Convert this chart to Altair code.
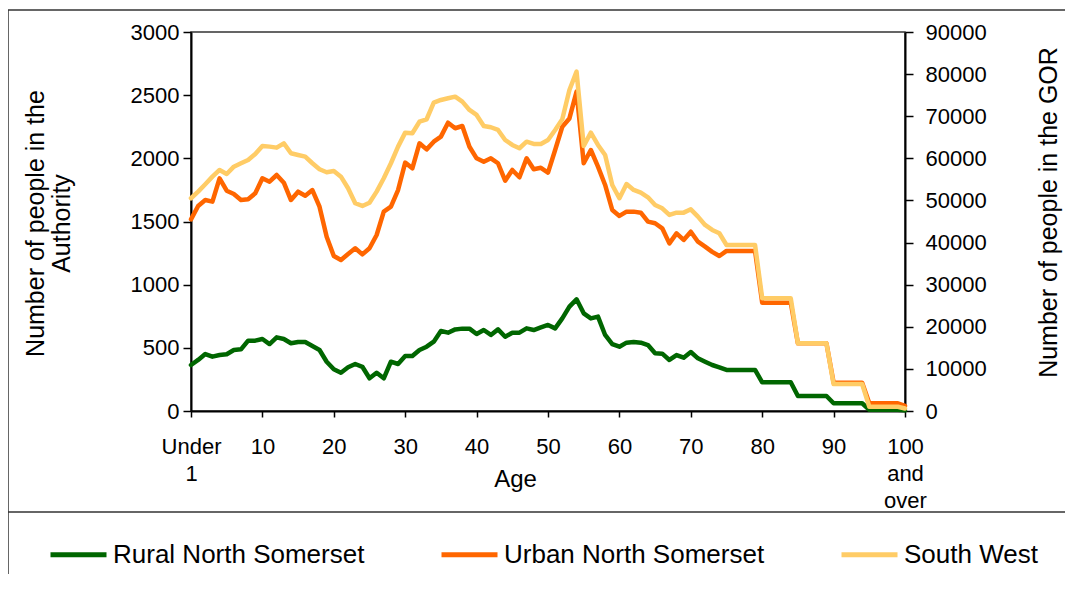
import altair as alt
import pandas as pd

ages = list(range(101))

rural = [364, 404, 451, 430, 443, 449, 483, 488, 557, 557,
         570, 530, 583, 570, 536, 546, 546, 515, 483, 390,
         330, 303, 346, 372, 350, 259, 303, 259, 390, 372,
         435, 435, 483, 509, 549, 633, 620, 646, 652, 652,
         609, 641, 602, 646, 588, 620, 620, 654, 641, 662,
         681, 654, 733, 826, 884, 773, 733, 747, 602, 530,
         509, 541, 546, 541, 522, 457, 454, 404, 443, 422,
         467, 417, 390, 364, 346, 325, 325, 325, 325, 325,
         227, 227, 227, 227, 227, 119, 119, 119, 119, 119,
         61, 61, 61, 61, 61, 10, 10, 10, 10, 10,
         5]

urban = [1517, 1623, 1670, 1657, 1842, 1744, 1718, 1670, 1676, 1723,
         1842, 1815, 1868, 1807, 1670, 1736, 1704, 1749, 1617, 1380,
         1227, 1195, 1243, 1288, 1240, 1288, 1393, 1578, 1617, 1749,
         1966, 1921, 2119, 2071, 2132, 2172, 2282, 2238, 2256, 2092,
         2000, 1973, 2000, 1961, 1823, 1908, 1850, 2000, 1913, 1925,
         1887, 2066, 2250, 2316, 2528, 1961, 2066, 1934, 1789, 1591,
         1544, 1578, 1578, 1570, 1499, 1486, 1446, 1327, 1406, 1354,
         1419, 1340, 1301, 1260, 1227, 1267, 1267, 1267, 1267, 1267,
         857, 857, 857, 857, 857, 536, 536, 536, 536, 536,
         224, 224, 224, 224, 224, 61, 61, 61, 61, 61,
         40]

south_west = [50520, 52090, 53840, 55650, 57240, 56290, 58020, 58830, 59610, 61040,
              62940, 62780, 62540, 63570, 61200, 60800, 60400, 58830, 57400, 56690,
              57000, 55650, 52890, 49330, 48690, 49470, 52090, 55260, 58830, 62780,
              66100, 65950, 68700, 69280, 73220, 73860, 74260, 74650, 73460, 71490,
              70300, 67690, 67380, 66740, 64360, 63180, 62390, 63960, 63410, 63410,
              64360, 66740, 69280, 76240, 80590, 62940, 66100, 63180, 60800, 53670,
              50520, 53910, 52490, 51850, 50750, 48930, 48140, 46550, 47100, 47100,
              47890, 46150, 44180, 43000, 42200, 39420, 39420, 39420, 39420, 39420,
              26770, 26770, 26770, 26770, 26770, 16080, 16080, 16080, 16080, 16080,
              6410, 6410, 6410, 6410, 6410, 1000, 1000, 1000, 1000, 1000,
              600]

series_names = ["Rural North Somerset", "Urban North Somerset", "South West"]
series_colors = ["#006600", "#FF6600", "#FFCC66"]
left_ticks = [0, 500, 1000, 1500, 2000, 2500, 3000]
right_ticks = [0, 10000, 20000, 30000, 40000, 50000, 60000, 70000, 80000, 90000]
age_ticks = [0, 10, 20, 30, 40, 50, 60, 70, 80, 90, 100]

FONT = "Liberation Sans"

df_left = pd.DataFrame({
    "age": ages + ages,
    "value": rural + urban,
    "series": [series_names[0]] * len(ages) + [series_names[1]] * len(ages),
})
df_right = pd.DataFrame({
    "age": ages,
    "value": south_west,
    "series": [series_names[2]] * len(ages),
})

color = alt.Color(
    "series:N",
    scale=alt.Scale(domain=series_names, range=series_colors),
    legend=alt.Legend(
        title=None, orient="none", direction="horizontal",
        legendX=-143, legendY=492,
        symbolType="stroke", symbolSize=3136, symbolStrokeWidth=5,
        labelFont=FONT, labelFontSize=26, labelColor="black", labelLimit=0,
        labelOffset=4, columnPadding=66, padding=0,
    ),
)

x_enc = alt.X(
    "age:Q",
    scale=alt.Scale(domain=[0, 100], nice=False),
    axis=alt.Axis(
        values=age_ticks,
        labelExpr="datum.value == 0 ? ['Under', '1'] : datum.value == 100 ? ['100', 'and', 'over'] : datum.label",
        labelFlush=False, labelOverlap=False, labelBound=False,
        labelLineHeight=27, labelPadding=19, tickSize=6,
        labelFontSize=22,
        title="Age", titleX=324, titleY=68, titleBaseline="middle",
        titleFontSize=24,
    ),
)

line_props = dict(strokeWidth=4.5, strokeJoin="round", strokeCap="round")

left = alt.Chart(df_left).mark_line(**line_props).encode(
    x=x_enc,
    y=alt.Y(
        "value:Q",
        scale=alt.Scale(domain=[0, 3000], nice=False),
        axis=alt.Axis(
            orient="left", values=left_ticks, format="d",
            tickSize=8, labelPadding=4, labelFontSize=22,
            title=["Number of people in the", "Authority"],
            titleX=-156, titleY=191, titleAngle=270,
            titleAlign="center", titleBaseline="middle",
            titleFontSize=25, titleLineHeight=26,
        ),
    ),
    color=color,
)

right = alt.Chart(df_right).mark_line(**line_props).encode(
    x=x_enc,
    y=alt.Y(
        "value:Q",
        scale=alt.Scale(domain=[0, 90000], nice=False),
        axis=alt.Axis(
            orient="right", values=right_ticks, format="d",
            tickSize=8, labelPadding=12, labelFontSize=22,
            title="Number of people in the GOR",
            titleX=143, titleY=180, titleAngle=270,
            titleAlign="center", titleBaseline="middle",
            titleFontSize=25,
        ),
    ),
    color=color,
)

frame_df = pd.DataFrame({"k": [0]})
frame_left = alt.Chart(frame_df).mark_rule(color="#333333", strokeWidth=1.5).encode(
    x=alt.value(-183), y=alt.value(-22), y2=alt.value(560)
)
frame_top = alt.Chart(frame_df).mark_rule(color="#333333", strokeWidth=1.5).encode(
    x=alt.value(-183), x2=alt.value(880), y=alt.value(-22)
)
frame_sep = alt.Chart(frame_df).mark_rule(color="#333333", strokeWidth=1.5).encode(
    x=alt.value(-183), x2=alt.value(880), y=alt.value(480)
)

chart = alt.layer(left, right, frame_left, frame_top, frame_sep).resolve_scale(
    y="independent"
).properties(
    width=714, height=379,
    autosize=alt.AutoSizeParams(type="none"),
    padding={"left": 183, "top": 24, "right": 160, "bottom": 163},
).configure(
    font=FONT,
).configure_axis(
    labelFont=FONT, titleFont=FONT, labelColor="black", titleColor="black",
    domainColor="black", domainWidth=2, tickColor="black", tickWidth=1.5,
    grid=False, titleFontWeight="normal",
).configure_view(
    stroke="#333333", strokeWidth=1.5,
)

chart.save("out.html", embed_options={"renderer": "svg", "actions": False})
